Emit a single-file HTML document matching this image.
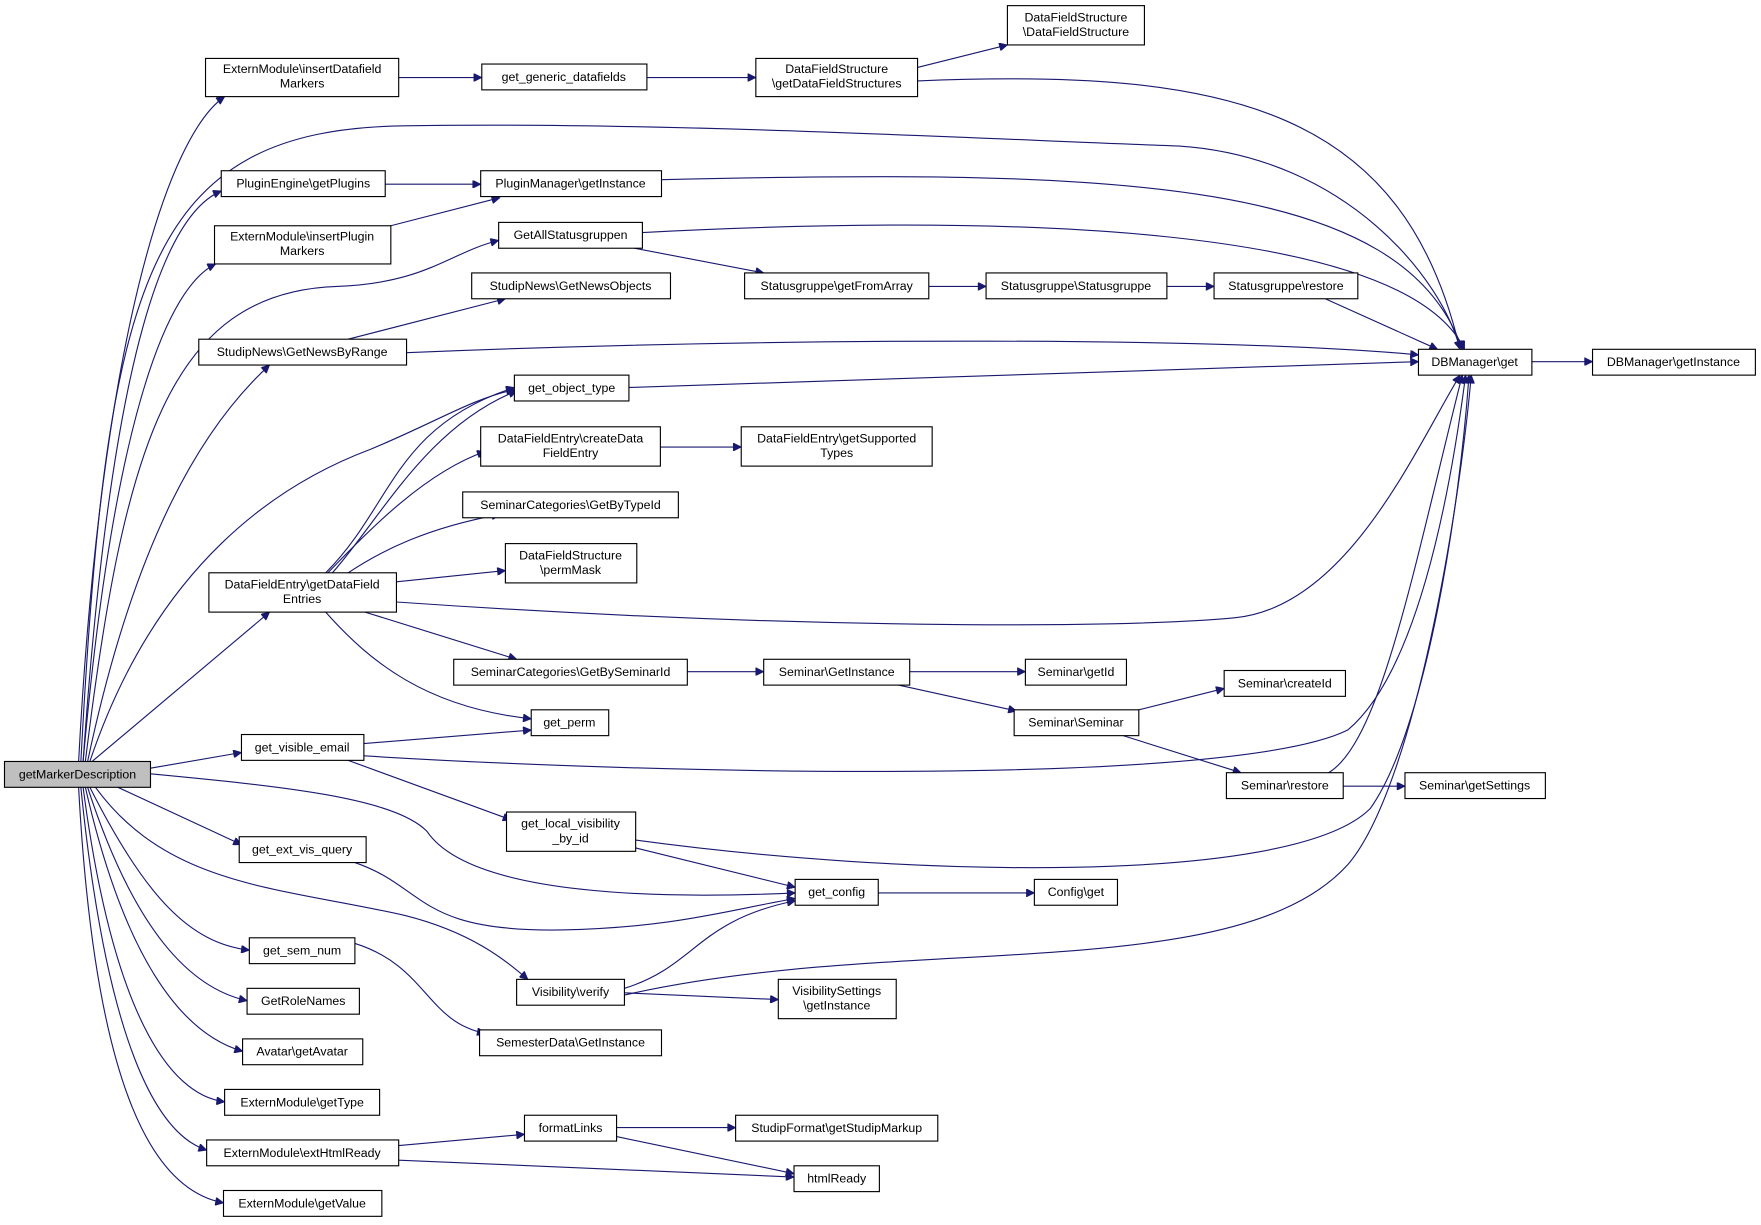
<!DOCTYPE html>
<html><head><meta charset="utf-8"><style>
html,body{margin:0;padding:0;background:#fff;}
svg{display:block;}
text{font-family:"Liberation Sans",Helvetica,Arial,sans-serif;font-size:11px;fill:#000;}
.e{fill:none;stroke:#191970;stroke-width:1;}
.n{fill:#fff;stroke:#000;stroke-width:1;}
</style></head><body>
<svg width="1761" height="1225" viewBox="0 0 1568 1090.7" xmlns="http://www.w3.org/2000/svg">
<defs><marker id="a" viewBox="0 0 10 10" refX="10" refY="5" markerWidth="9" markerHeight="7" orient="auto" markerUnits="userSpaceOnUse"><path d="M0,0 L10,5 L0,10 z" fill="#191970" stroke="#191970"/></marker></defs>
<g class="e" marker-end="url(#a)">
<path d="M70,678 C90,300 150,120 200,86"/>
<path d="M72,678 C95,250 130,115 360,112 C600,108 900,125 1050,130 C1200,140 1285,250 1300,311"/>
<path d="M74,678 C100,300 150,190 197,170"/>
<path d="M74,678 C105,330 160,250 192,235"/>
<path d="M76,678 C110,400 150,260 300,255 C380,252 400,225 444,214"/>
<path d="M78,678 C120,480 180,380 240,325"/>
<path d="M80,678 C140,500 250,430 330,400 C390,375 420,355 458,347"/>
<path d="M82,678 L240,545"/>
<path d="M134,684 L215,670"/>
<path d="M134,689 C250,700 350,710 380,740 C420,800 600,800 708,795"/>
<path d="M105,701 L215,752"/>
<path d="M85,701 C150,790 250,790 360,815 C420,830 450,855 470,872"/>
<path d="M80,701 C130,800 170,840 222,846"/>
<path d="M78,701 C120,830 170,880 220,891"/>
<path d="M76,701 C110,850 160,920 216,936"/>
<path d="M74,701 C100,900 150,975 200,981"/>
<path d="M72,701 C95,930 140,1010 184,1024"/>
<path d="M70,701 C85,980 140,1060 199,1071"/>
<path d="M355,69 L429,69"/>
<path d="M576,69 L673,69"/>
<path d="M817,60 L897,40"/>
<path d="M817,72 C1100,60 1250,100 1300,311"/>
<path d="M343,164 L428,164"/>
<path d="M348,201 L445,176"/>
<path d="M589,160 C1000,150 1250,160 1302,311"/>
<path d="M572,207 C900,190 1250,200 1304,311"/>
<path d="M565,221 L680,243"/>
<path d="M827,255 L878,255"/>
<path d="M1039,255 L1081,255"/>
<path d="M1180,266 L1280,311"/>
<path d="M310,302 L450,266"/>
<path d="M362,314 C700,300 1100,300 1263,316"/>
<path d="M560,345 L1263,322"/>
<path d="M1364,322 L1418,322"/>
<path d="M290,510 C350,450 350,380 458,345"/>
<path d="M296,510 C340,460 380,380 460,348"/>
<path d="M292,510 C330,470 380,420 432,402"/>
<path d="M310,510 C340,490 380,470 445,458"/>
<path d="M353,518 L450,508"/>
<path d="M353,536 C700,560 1000,560 1100,550 C1200,540 1260,400 1300,334"/>
<path d="M325,545 L460,587"/>
<path d="M290,545 C330,590 380,630 473,640"/>
<path d="M588,398 L660,398"/>
<path d="M612,598 L680,598"/>
<path d="M810,598 L913,598"/>
<path d="M800,610 L905,633"/>
<path d="M1014,632 L1090,613"/>
<path d="M1000,655 L1105,688"/>
<path d="M1183,688 C1230,660 1260,500 1302,334"/>
<path d="M1196,700 L1251,700"/>
<path d="M324,662 L473,650"/>
<path d="M324,673 C600,690 1100,700 1200,650 C1260,600 1290,450 1305,334"/>
<path d="M310,677 L455,730"/>
<path d="M566,755 L708,790"/>
<path d="M566,748 C800,780 1150,790 1220,720 C1270,650 1300,450 1308,334"/>
<path d="M316,768 C380,790 370,830 500,828 C600,826 650,810 708,800"/>
<path d="M782,795 L921,795"/>
<path d="M316,840 C380,860 380,910 432,920"/>
<path d="M556,880 C620,860 620,820 708,802"/>
<path d="M556,886 C800,830 1100,880 1200,770 C1260,700 1300,450 1310,334"/>
<path d="M556,884 L693,890"/>
<path d="M355,1020 L467,1010"/>
<path d="M355,1033 L707,1048"/>
<path d="M549,1004 L655,1004"/>
<path d="M549,1012 L707,1045"/>
</g>
<g>
<rect x="4" y="678" width="130" height="23" fill="#bfbfbf" stroke="#000"/><text x="69" y="693" text-anchor="middle">getMarkerDescription</text>
<rect class="n" x="183" y="52" width="172" height="34"/><text x="269" y="65" text-anchor="middle">ExternModule\insertDatafield</text><text x="269" y="78" text-anchor="middle">Markers</text>
<rect class="n" x="429" y="57" width="147" height="23"/><text x="502" y="72" text-anchor="middle">get_generic_datafields</text>
<rect class="n" x="673" y="52" width="144" height="34"/><text x="745" y="65" text-anchor="middle">DataFieldStructure</text><text x="745" y="78" text-anchor="middle">\getDataFieldStructures</text>
<rect class="n" x="897" y="5" width="122" height="35"/><text x="958" y="19" text-anchor="middle">DataFieldStructure</text><text x="958" y="32" text-anchor="middle">\DataFieldStructure</text>
<rect class="n" x="197" y="152" width="146" height="23"/><text x="270" y="167" text-anchor="middle">PluginEngine\getPlugins</text>
<rect class="n" x="428" y="152" width="161" height="23"/><text x="508" y="167" text-anchor="middle">PluginManager\getInstance</text>
<rect class="n" x="191" y="201" width="157" height="34"/><text x="269" y="214" text-anchor="middle">ExternModule\insertPlugin</text><text x="269" y="227" text-anchor="middle">Markers</text>
<rect class="n" x="444" y="198" width="128" height="23"/><text x="508" y="213" text-anchor="middle">GetAllStatusgruppen</text>
<rect class="n" x="420" y="243" width="177" height="23"/><text x="508" y="258" text-anchor="middle">StudipNews\GetNewsObjects</text>
<rect class="n" x="663" y="243" width="164" height="23"/><text x="745" y="258" text-anchor="middle">Statusgruppe\getFromArray</text>
<rect class="n" x="878" y="243" width="161" height="23"/><text x="958" y="258" text-anchor="middle">Statusgruppe\Statusgruppe</text>
<rect class="n" x="1081" y="243" width="128" height="23"/><text x="1145" y="258" text-anchor="middle">Statusgruppe\restore</text>
<rect class="n" x="177" y="302" width="185" height="23"/><text x="269" y="317" text-anchor="middle">StudipNews\GetNewsByRange</text>
<rect class="n" x="1263" y="311" width="101" height="23"/><text x="1313" y="326" text-anchor="middle">DBManager\get</text>
<rect class="n" x="1418" y="311" width="145" height="23"/><text x="1490" y="326" text-anchor="middle">DBManager\getInstance</text>
<rect class="n" x="458" y="334" width="102" height="23"/><text x="509" y="349" text-anchor="middle">get_object_type</text>
<rect class="n" x="428" y="380" width="160" height="35"/><text x="508" y="394" text-anchor="middle">DataFieldEntry\createData</text><text x="508" y="407" text-anchor="middle">FieldEntry</text>
<rect class="n" x="660" y="380" width="170" height="35"/><text x="745" y="394" text-anchor="middle">DataFieldEntry\getSupported</text><text x="745" y="407" text-anchor="middle">Types</text>
<rect class="n" x="412" y="438" width="192" height="23"/><text x="508" y="453" text-anchor="middle">SeminarCategories\GetByTypeId</text>
<rect class="n" x="450" y="484" width="117" height="35"/><text x="508" y="498" text-anchor="middle">DataFieldStructure</text><text x="508" y="511" text-anchor="middle">\permMask</text>
<rect class="n" x="186" y="510" width="167" height="35"/><text x="269" y="524" text-anchor="middle">DataFieldEntry\getDataField</text><text x="269" y="537" text-anchor="middle">Entries</text>
<rect class="n" x="404" y="587" width="208" height="23"/><text x="508" y="602" text-anchor="middle">SeminarCategories\GetBySeminarId</text>
<rect class="n" x="680" y="587" width="130" height="23"/><text x="745" y="602" text-anchor="middle">Seminar\GetInstance</text>
<rect class="n" x="913" y="587" width="90" height="23"/><text x="958" y="602" text-anchor="middle">Seminar\getId</text>
<rect class="n" x="1090" y="597" width="108" height="23"/><text x="1144" y="612" text-anchor="middle">Seminar\createId</text>
<rect class="n" x="903" y="632" width="111" height="23"/><text x="958" y="647" text-anchor="middle">Seminar\Seminar</text>
<rect class="n" x="473" y="632" width="69" height="23"/><text x="507" y="647" text-anchor="middle">get_perm</text>
<rect class="n" x="215" y="654" width="109" height="23"/><text x="269" y="669" text-anchor="middle">get_visible_email</text>
<rect class="n" x="1092" y="688" width="104" height="23"/><text x="1144" y="703" text-anchor="middle">Seminar\restore</text>
<rect class="n" x="1251" y="688" width="125" height="23"/><text x="1313" y="703" text-anchor="middle">Seminar\getSettings</text>
<rect class="n" x="451" y="723" width="115" height="35"/><text x="508" y="737" text-anchor="middle">get_local_visibility</text><text x="508" y="750" text-anchor="middle">_by_id</text>
<rect class="n" x="213" y="745" width="113" height="23"/><text x="269" y="760" text-anchor="middle">get_ext_vis_query</text>
<rect class="n" x="708" y="783" width="74" height="23"/><text x="745" y="798" text-anchor="middle">get_config</text>
<rect class="n" x="921" y="783" width="74" height="23"/><text x="958" y="798" text-anchor="middle">Config\get</text>
<rect class="n" x="222" y="835" width="94" height="23"/><text x="269" y="850" text-anchor="middle">get_sem_num</text>
<rect class="n" x="460" y="872" width="96" height="23"/><text x="508" y="887" text-anchor="middle">Visibility\verify</text>
<rect class="n" x="693" y="872" width="105" height="35"/><text x="745" y="886" text-anchor="middle">VisibilitySettings</text><text x="745" y="899" text-anchor="middle">\getInstance</text>
<rect class="n" x="220" y="880" width="100" height="23"/><text x="270" y="895" text-anchor="middle">GetRoleNames</text>
<rect class="n" x="427" y="917" width="162" height="23"/><text x="508" y="932" text-anchor="middle">SemesterData\GetInstance</text>
<rect class="n" x="216" y="925" width="107" height="23"/><text x="269" y="940" text-anchor="middle">Avatar\getAvatar</text>
<rect class="n" x="200" y="970" width="138" height="23"/><text x="269" y="985" text-anchor="middle">ExternModule\getType</text>
<rect class="n" x="467" y="993" width="82" height="23"/><text x="508" y="1008" text-anchor="middle">formatLinks</text>
<rect class="n" x="655" y="993" width="180" height="23"/><text x="745" y="1008" text-anchor="middle">StudipFormat\getStudipMarkup</text>
<rect class="n" x="184" y="1015" width="171" height="23"/><text x="269" y="1030" text-anchor="middle">ExternModule\extHtmlReady</text>
<rect class="n" x="707" y="1038" width="76" height="23"/><text x="745" y="1053" text-anchor="middle">htmlReady</text>
<rect class="n" x="199" y="1060" width="141" height="23"/><text x="269" y="1075" text-anchor="middle">ExternModule\getValue</text>
</g>
</svg>
</body></html>
